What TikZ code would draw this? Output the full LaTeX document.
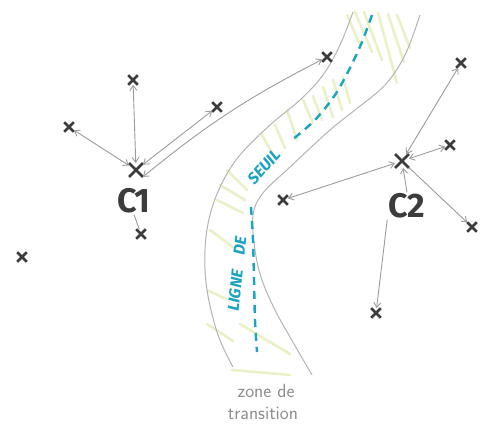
\documentclass[tikz,border=0pt]{standalone}
\usepackage{fontspec}
\setmainfont{Fira Sans}
\usetikzlibrary{arrows.meta,shapes.misc}
\definecolor{dark}{HTML}{3C3C3C}
\definecolor{arrgray}{HTML}{9C9C9C}
\definecolor{bandgray}{HTML}{B4B4B4}
\definecolor{seuil}{HTML}{1AA3C2}
\definecolor{hatch}{HTML}{DCE69A}
\definecolor{txtgray}{HTML}{8E8E8E}
\tikzset{
  pt/.style={cross out, draw=dark, line width=2.6pt, minimum size=7pt, inner sep=0pt},
  ctr/.style={cross out, draw=dark, line width=2.8pt, minimum size=11pt, inner sep=0pt},
  clabel/.style={text=dark, font=\fontsize{34}{34}\selectfont\bfseries, inner sep=1pt},
  arr/.style={draw=arrgray, line width=0.9pt, {Straight Barb[length=5pt,width=7pt]}-{Straight Barb[length=5pt,width=7pt]}},
  arrone/.style={draw=arrgray, line width=0.9pt, -{Straight Barb[length=5pt,width=7pt]}},
  bandline/.style={draw=bandgray, line width=1pt},
  hatchline/.style={draw=hatch, line width=2.6pt, opacity=0.55, line cap=round},
  seuilline/.style={draw=seuil, line width=2.4pt, dash pattern=on 8pt off 6pt},
  seuiltext/.style={text=seuil, font=\fontsize{16}{16}\selectfont\bfseries\itshape, inner sep=0pt},
  zonetext/.style={text=txtgray, font=\fontsize{19}{19}\selectfont\sffamily, inner sep=0pt}
}
\begin{document}
\begin{tikzpicture}[x=1pt,y=-1pt]
\useasboundingbox (0,0) rectangle (480,428);
\fill[white] (0,0) rectangle (480,428);

% hatching in the transition band
\foreach \a/\b in {
  {(347,15)}/{(360,45)}, {(355,12)}/{(372,52)}, {(364,12)}/{(382,60)}, {(378,13)}/{(397,83)}, {(388,14)}/{(404,62)}, {(397,15)}/{(410,48)},
  {(343,77)}/{(350,103)}, {(333,80)}/{(342,110)}, {(323,87)}/{(333,117)}, {(313,96)}/{(322,120)}, {(303,100)}/{(313,123)}, {(287,110)}/{(297,140)},
  {(275,125)}/{(285,148)}, {(262,135)}/{(275,158)},
  {(227,170)}/{(247,190)}, {(220,185)}/{(245,200)}, {(217,200)}/{(243,213)}, {(210,230)}/{(237,250)},
  {(207,290)}/{(226,299)}, {(207,324)}/{(233,341)}, {(240,324)}/{(290,354)}, {(232,370)}/{(290,375)}}
  {\draw[hatchline] \a -- \b;}

% band boundaries
\draw[bandline] plot[smooth, tension=0.6] coordinates {(353,12) (340,45) (323,75) (300,100) (270,125) (240,155) (222,183) (210,215) (205,250) (207,290) (218,335) (233,367)};
\draw[bandline] plot[smooth, tension=0.6] coordinates {(420,15) (405,55) (385,85) (355,110) (330,130) (290,167) (263,193) (253,215) (255,250) (262,280) (275,310) (290,337) (312,375)};

% threshold line
\draw[seuilline] plot[smooth] coordinates {(372,15) (362,42) (350,68) (335,95) (315,120) (292,140)};
\draw[seuilline] plot[smooth] coordinates {(251,207) (253,240) (254,280) (255,320) (257,352)};
\node[seuiltext, rotate=48] (seuil) at (264,167) {SEUIL};
\node[seuiltext, rotate=84] (ligne) at (237,274) {LIGNE\ \ \ \ DE};

% text
\node[zonetext] (zone) at (266,391) {zone de};
\node[zonetext] (trans) at (263,413) {transition};

% centres
\node[ctr] (c1) at (136,170) {};
\node[ctr] (c2) at (402,161) {};
\node[clabel] (l1) at (134,201) {C1};
\node[clabel] (l2) at (407,206) {C2};

% points
\node[pt] (a1) at (133,80) {};
\node[pt] (a2) at (69,127) {};
\node[pt] (a3) at (217,107) {};
\node[pt] (a4) at (327,57) {};
\node[pt] (a5) at (141,234) {};
\node[pt] (a6) at (22,257) {};
\node[pt] (b1) at (461,63) {};
\node[pt] (b2) at (450,145) {};
\node[pt] (b3) at (283,200) {};
\node[pt] (b4) at (472,227) {};
\node[pt] (b5) at (376,313) {};

% connectors C1
\draw[arr] (c1) -- (a1);
\draw[arr] (c1) -- (a2);
\draw[arr] (c1) -- (a3);
\draw[arr] (c1.south east) to[bend left=6] (a4);
\draw[draw=arrgray, line width=0.9pt] (l1.south) -- (a5);

% connectors C2
\draw[arr] (c2) -- (b1);
\draw[arr] (c2) -- (b2);
\draw[arr] (c2) -- (b3);
\draw[arrone] (c2) -- (b4);
\draw[arrone] (l2.north) -- (c2);
\draw[arrone] (l2.south west) -- (b5);
\end{tikzpicture}
\end{document}
